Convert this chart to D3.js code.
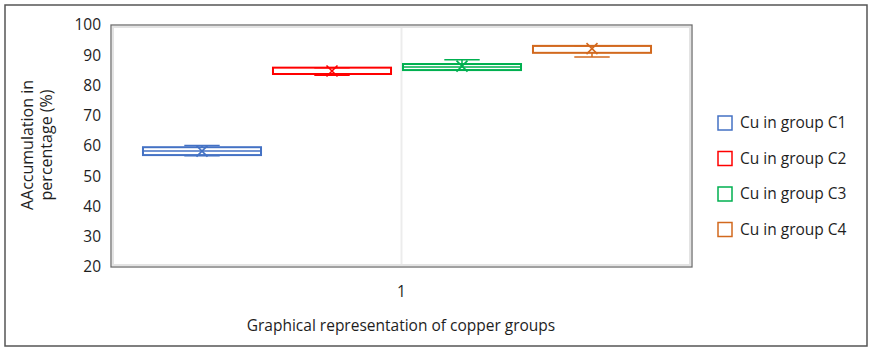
<!DOCTYPE html>
<html>
<head>
	<script src="https://d3js.org/d3.v7.min.js"></script>
	<style>
		body { margin: 0; background: #fff; }
		text { font-family: "Open Sans", sans-serif; fill: #1e1e1e; }
	</style>
</head>
<body>
	<script type="text/javascript">

		// data
		var categories = ["1"];
		var seriesNames = ["Cu in group C1", "Cu in group C2", "Cu in group C3", "Cu in group C4"];
		var seriesColors = ["#4472C4", "#FF0000", "#00B050", "#D2691E"];
		var minVals = [56.8, 83.4, 85.1, 89.4];
		var q1Vals = [57.0, 83.8, 85.1, 90.8];
		var medianVals = [58.35, 83.8, 86.1, 93.1];
		var q3Vals = [59.6, 85.9, 87.1, 93.1];
		var maxVals = [60.2, 85.9, 88.5, 93.1];
		var meanVals = [58.3, 84.8, 86.4, 92.2];
		var yTicks = [20, 30, 40, 50, 60, 70, 80, 90, 100];

		var boxes = seriesNames.map(function(name, i) {
			return {name: name, color: seriesColors[i], min: minVals[i], q1: q1Vals[i],
				median: medianVals[i], q3: q3Vals[i], max: maxVals[i], mean: meanVals[i]};
		});

		var w = 874, h = 352;
		var pLeft = 111, pRight = 692, pTop = 25, pBottom = 267;

		var svg = d3.select("body").append("svg")
			.attr("width", w)
			.attr("height", h);

		// outer border
		svg.append("rect")
			.attr("x", 5).attr("y", 5)
			.attr("width", 862).attr("height", 341)
			.attr("fill", "#fff")
			.attr("stroke", "#555").attr("stroke-width", 1.5);

		var yScale = d3.scaleLinear().domain([20, 100]).range([pBottom, pTop]);
		var x0 = d3.scaleBand().domain(categories).range([pLeft, pRight]);
		// boxes sit a little left of the category centre, as in the source
		var x1 = d3.scaleBand().domain(seriesNames)
			.range([0, x0.bandwidth() - 9])
			.paddingInner(0.092).paddingOuter(0.246);

		// plot area frame
		svg.append("rect")
			.attr("x", pLeft + 2).attr("y", pTop + 2)
			.attr("width", pRight - pLeft - 4).attr("height", pBottom - pTop - 4)
			.attr("fill", "none").attr("stroke", "#e3e3e3").attr("stroke-width", 2);
		svg.append("rect")
			.attr("x", pLeft).attr("y", pTop)
			.attr("width", pRight - pLeft).attr("height", pBottom - pTop)
			.attr("fill", "none").attr("stroke", "#6e6e6e").attr("stroke-width", 1.3);

		// category gridline
		var cx0 = x0("1") + x0.bandwidth() / 2;
		svg.append("line")
			.attr("x1", cx0).attr("x2", cx0)
			.attr("y1", pTop + 3).attr("y2", pBottom - 3)
			.attr("stroke", "#ececec").attr("stroke-width", 2);

		// y axis
		var yAxis = svg.append("g")
			.attr("transform", "translate(" + (pLeft - 10) + ",0)")
			.call(d3.axisLeft(yScale).tickValues(yTicks).tickSize(0).tickPadding(0));
		yAxis.select(".domain").remove();
		yAxis.selectAll("text")
			.style("font-family", "'Open Sans', sans-serif")
			.style("font-size", "15.5px")
			.attr("fill", "#1e1e1e");

		// x axis label
		svg.selectAll(".xtick")
			.data(categories)
			.enter().append("text")
			.attr("x", function(d) { return x0(d) + x0.bandwidth() / 2; })
			.attr("y", 297)
			.attr("text-anchor", "middle")
			.style("font-size", "15.5px")
			.text(function(d) { return d; });

		svg.append("text")
			.attr("x", 401).attr("y", 331)
			.attr("text-anchor", "middle")
			.style("font-size", "15.5px")
			.text("Graphical representation of copper groups");

		// y title
		var yt = svg.append("text")
			.attr("transform", "translate(33,145) rotate(-90)")
			.attr("text-anchor", "middle")
			.style("font-size", "16px");
		yt.append("tspan").attr("x", 0).attr("dy", 0).text("AAccumulation  in");
		yt.append("tspan").attr("x", 0).attr("dy", 19).text("percentage (%)");

		// boxes
		var g = svg.selectAll(".box")
			.data(boxes)
			.enter().append("g")
			.attr("class", "box")
			.attr("transform", function(d) { return "translate(" + (x0("1") + x1(d.name)) + ",0)"; });

		var bw = x1.bandwidth();
		var capW = bw * 0.3;

		g.append("line")
			.attr("x1", bw / 2).attr("x2", bw / 2)
			.attr("y1", function(d) { return yScale(d.max); })
			.attr("y2", function(d) { return yScale(d.q3); })
			.attr("stroke", function(d) { return d.color; }).attr("stroke-width", 1.5);
		g.append("line")
			.attr("x1", bw / 2).attr("x2", bw / 2)
			.attr("y1", function(d) { return yScale(d.q1); })
			.attr("y2", function(d) { return yScale(d.min); })
			.attr("stroke", function(d) { return d.color; }).attr("stroke-width", 1.5);

		g.append("rect")
			.attr("x", 0)
			.attr("y", function(d) { return yScale(d.q3); })
			.attr("width", bw)
			.attr("height", function(d) { return yScale(d.q1) - yScale(d.q3); })
			.attr("fill", "#fff")
			.attr("stroke", function(d) { return d.color; })
			.attr("stroke-width", 2);

		g.append("line")
			.attr("x1", 0).attr("x2", bw)
			.attr("y1", function(d) { return yScale(d.median); })
			.attr("y2", function(d) { return yScale(d.median); })
			.attr("stroke", function(d) { return d.color; }).attr("stroke-width", 1.5);

		["max", "min"].forEach(function(k) {
			g.append("line")
				.attr("x1", bw / 2 - capW / 2).attr("x2", bw / 2 + capW / 2)
				.attr("y1", function(d) { return yScale(d[k]); })
				.attr("y2", function(d) { return yScale(d[k]); })
				.attr("stroke", function(d) { return d.color; }).attr("stroke-width", 1.5);
		});

		// mean marker X
		g.append("path")
			.attr("d", function(d) {
				var cx = bw / 2, cy = yScale(d.mean), s = 5.5;
				return "M" + (cx - s) + "," + (cy - s) + "L" + (cx + s) + "," + (cy + s) +
					"M" + (cx - s) + "," + (cy + s) + "L" + (cx + s) + "," + (cy - s);
			})
			.attr("stroke", function(d) { return d.color; })
			.attr("stroke-width", 1.6)
			.attr("fill", "none");

		// legend
		var legend = svg.selectAll(".legend")
			.data(boxes)
			.enter().append("g")
			.attr("class", "legend")
			.attr("transform", function(d, i) { return "translate(718," + (116 + i * 35.5) + ")"; });

		legend.append("rect")
			.attr("width", 14).attr("height", 14)
			.attr("fill", "#fff")
			.attr("stroke", function(d) { return d.color; })
			.attr("stroke-width", 1.5);

		legend.append("text")
			.attr("x", 22).attr("y", 12)
			.style("font-size", "15.5px")
			.text(function(d) { return d.name; });

	</script>
</body>
</html>
